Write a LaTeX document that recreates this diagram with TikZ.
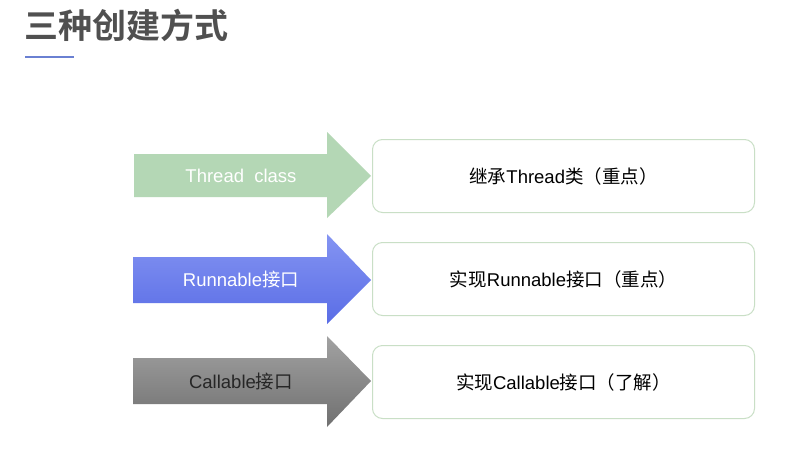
\documentclass[tikz,border=0pt]{standalone}
\usepackage{fontspec}
\setmainfont{Liberation Sans}
\newfontfamily\cjk{Noto Sans CJK SC}
\newfontfamily\cjkb{Noto Sans CJK SC Bold}
\definecolor{titlegray}{HTML}{505050}
\definecolor{lineblue}{HTML}{6A80D2}
\definecolor{arrgreen}{HTML}{B4D7B5}
\definecolor{bluetop}{HTML}{8494F2}
\definecolor{bluebot}{HTML}{5A6DE6}
\definecolor{graytop}{HTML}{A2A2A2}
\definecolor{graybot}{HTML}{707070}
\definecolor{boxgreen}{HTML}{C9DFC6}
\begin{document}
\begin{tikzpicture}[x=1pt,y=-1pt,
  box/.style={draw=boxgreen,line width=1pt,rounded corners=10pt,minimum width=382pt,minimum height=73pt,inner sep=0pt,anchor=north west,font=\fontsize{18.5}{18.5}\selectfont},
  arrtxt/.style={font=\fontsize{18.5}{18.5}\selectfont,inner sep=0pt}]
\useasboundingbox (0,0) rectangle (800,474);
\fill[white] (0,0) rectangle (800,474);
% title
\node[anchor=west,inner sep=0pt,text=titlegray,font=\fontsize{34}{34}\selectfont\cjkb] (title) at (24,25) {三种创建方式};
\draw[lineblue,line width=2.2pt] (25,57) -- (74,57);
% arrows
\fill[arrgreen] (134,154) -- (327,154) -- (327,132) -- (371,176) -- (327,218) -- (327,197) -- (134,197) -- cycle;
\shade[top color=bluetop,bottom color=bluebot] (133,257) -- (327,257) -- (327,234) -- (371,280) -- (327,324) -- (327,303) -- (133,303) -- cycle;
\shade[top color=graytop,bottom color=graybot] (133,358) -- (327,358) -- (327,336) -- (371,381) -- (327,427) -- (327,404) -- (133,404) -- cycle;
\node[arrtxt,text=white] (a1) at (241,176) {Thread\ \ class};
\node[arrtxt,text=white] (a2) at (241,279) {Runnable{\cjk 接口}};
\node[arrtxt,text=black!85] (a3) at (241,381) {Callable{\cjk 接口}};
% boxes
\node[box] (b1) at (372,139) {{\cjk 继承}Thread{\cjk 类（重点）}};
\node[box] (b2) at (372,242) {{\cjk 实现}Runnable{\cjk 接口（重点）}};
\node[box] (b3) at (372,345) {{\cjk 实现}Callable{\cjk 接口（了解）}};
\end{tikzpicture}
\end{document}
